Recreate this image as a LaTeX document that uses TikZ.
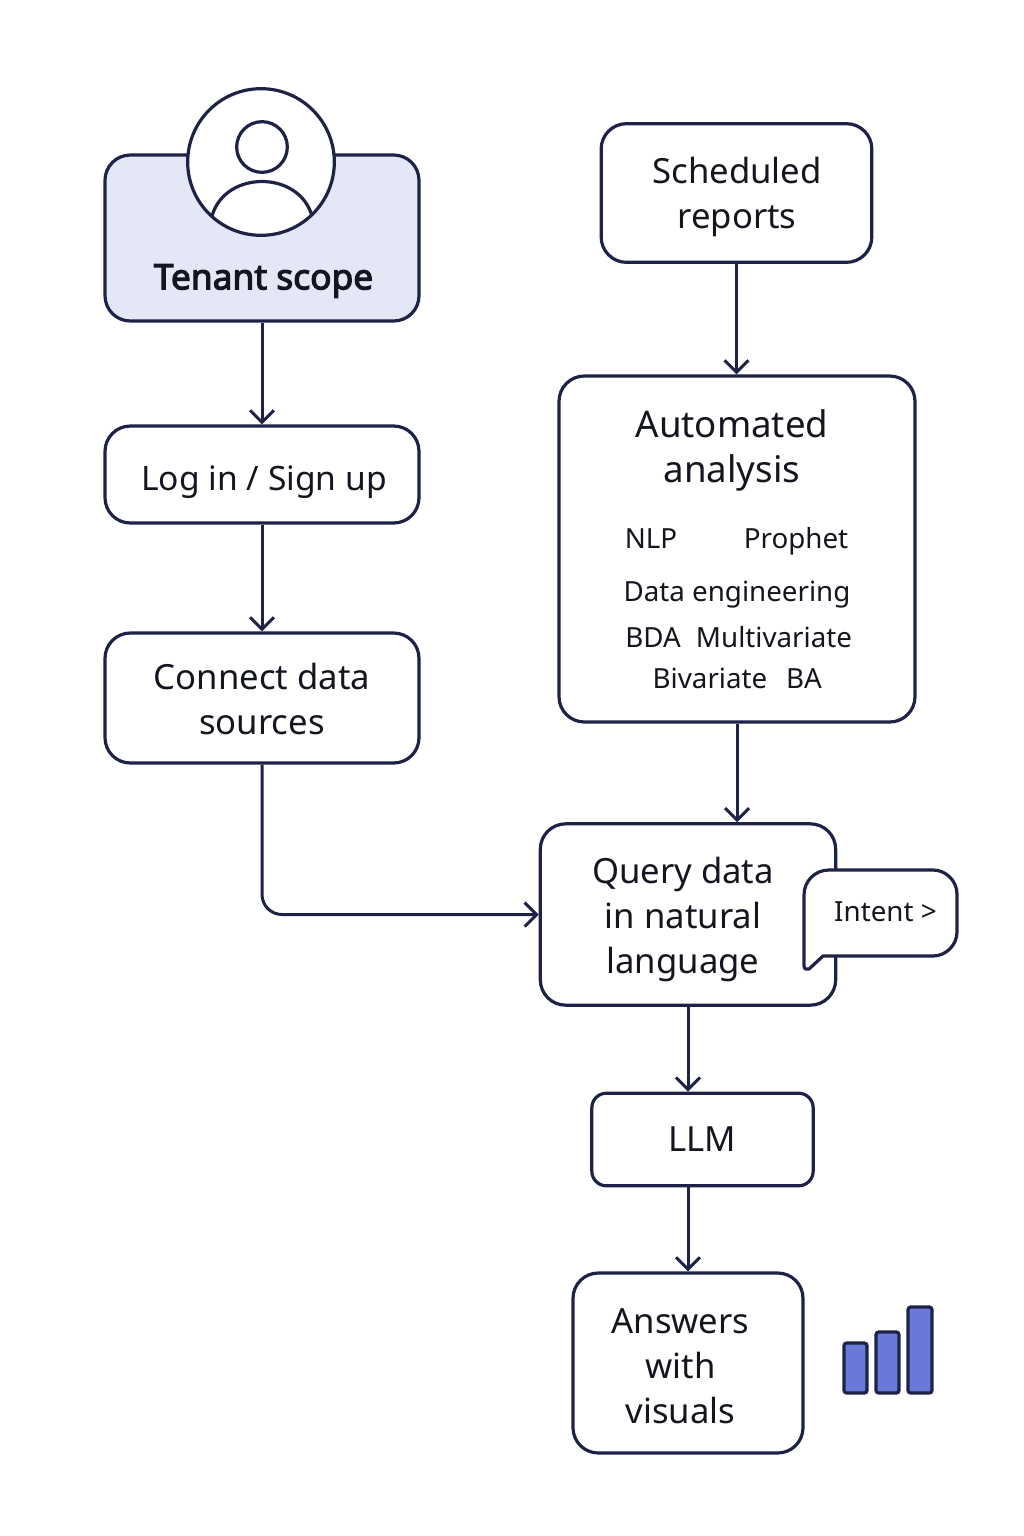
\documentclass[tikz,border=0pt]{standalone}
\usepackage{fontspec}
\usepackage{xcolor}
\setmainfont{Noto Sans}
\newfontfamily\tenantfont[FakeBold=3.2]{Noto Sans}
\usetikzlibrary{arrows.meta}
\definecolor{inkline}{HTML}{1E2247}
\definecolor{inktext}{HTML}{14161F}
\definecolor{tenantfill}{HTML}{E4E7F6}
\definecolor{barfill}{HTML}{6A78D8}
\tikzset{
  flowbox/.style={draw=inkline,line width=2.4pt,fill=white,rounded corners=19pt,inner sep=0pt,text=inktext,align=center,font=\fontsize{26}{33.75}\selectfont},
  flowarrow/.style={draw=inkline,line width=2.25pt,-{Straight Barb[length=9pt,width=18pt,line width=2.25pt]}},
  flowlabel/.style={inner sep=0pt,text=inktext,align=center,font=\fontsize{26}{33.75}\selectfont},
  smalllabel/.style={inner sep=0pt,text=inktext,anchor=base,font=\fontsize{20.8}{26}\selectfont},
  chartbar/.style={draw=inkline,line width=2.4pt,fill=barfill,rounded corners=2pt},
}
\begin{document}
\begin{tikzpicture}[x=0.75pt,y=0.75pt,yscale=-1,xscale=1]
\useasboundingbox (0,0) rectangle (1024,1536);

% left column
\node (tenant) [flowbox,fill=tenantfill,minimum width=235.5pt,minimum height=124.5pt] at (262,238) {};
\node (tenantlabel) [flowlabel,font=\fontsize{26.5}{30}\tenantfont] at (263.5,281) {Tenant scope};
\node (usercircle) [draw=inkline,line width=2.4pt,fill=white,circle,minimum size=110pt,inner sep=0pt] at (261,162) {};
\node (userhead) [draw=inkline,line width=2.4pt,circle,minimum size=38pt,inner sep=0pt] at (262,147) {};
\draw [draw=inkline,line width=2.4pt] (212,216) .. controls (225,170) and (299,170) .. (312,216);
\node (login) [flowbox,minimum width=235.5pt,minimum height=72.75pt] at (262,474.5) {};
\node (loginlabel) [flowlabel,font=\fontsize{25.2}{30}\selectfont] at (264,482) {Log in / Sign up};
\node (connect) [flowbox,minimum width=235.5pt,minimum height=97.5pt] at (262,698) {};
\node (connectlabel) [flowlabel] at (262,699) {Connect data\\sources};

% right column
\node (scheduled) [flowbox,minimum width=203pt,minimum height=104pt] at (736.5,193) {};
\node (scheduledlabel) [flowlabel] at (737,197) {Scheduled\\reports};
\node (automated) [flowbox,minimum width=267pt,minimum height=259.5pt] at (737,549) {};
\node (automatedlabel) [flowlabel,font=\fontsize{27.5}{33.75}\selectfont] at (732,450) {Automated\\analysis};
\node (nlp) [smalllabel] at (651,548) {NLP};
\node (prophet) [smalllabel] at (796,548) {Prophet};
\node (dataeng) [smalllabel] at (737,601) {Data engineering};
\node (bda) [smalllabel] at (653,647) {BDA};
\node (multivariate) [smalllabel] at (774,647) {Multivariate};
\node (bivariate) [smalllabel] at (710,688) {Bivariate};
\node (ba) [smalllabel] at (804,688) {BA};

\node (query) [flowbox,minimum width=221.5pt,minimum height=136pt] at (688,914.5) {};
\node (querylabel) [flowlabel] at (683,919) {Query data\\in natural\\language};
\node (llm) [flowbox,rounded corners=11pt,minimum width=166pt,minimum height=69.5pt] at (702.5,1139.5) {LLM};
\node (answers) [flowbox,minimum width=172.5pt,minimum height=135pt] at (688,1363) {};
\node (answerslabel) [flowlabel] at (680.5,1366) {Answers\\with\\visuals};

% intent bubble
\draw [draw=inkline,line width=2.4pt,fill=white,line join=round] (829,870) -- (933,870) .. controls (946,870) and (957,881) .. (957,894) -- (957,932) .. controls (957,945) and (946,956) .. (933,956) -- (823,956) -- (809,969) .. controls (807,970) and (804,969) .. (804,966) -- (804,895) .. controls (804,881) and (815,870) .. (829,870) -- cycle;
\node (intent) [smalllabel] at (885.5,921) {Intent {\fontsize{21}{21}\selectfont >}};

% bars
\draw [chartbar] (844,1343) rectangle (867,1393);
\draw [chartbar] (876,1332) rectangle (899,1393);
\draw [chartbar] (908,1307) rectangle (932,1393);

% connectors
\draw [flowarrow] (tenant.south) -- (login.north);
\draw [flowarrow] (login.south) -- (connect.north);
\draw [flowarrow,rounded corners=15pt] (connect.south) |- (query.west);
\draw [flowarrow] (scheduled.south) -- (automated.north -| scheduled.south);
\draw [flowarrow] (automated.south) -- (automated.south |- query.north);
\draw [flowarrow] (query.south) -- (query.south |- llm.north);
\draw [flowarrow] (answers.north |- llm.south) -- (answers.north);
\end{tikzpicture}
\end{document}
